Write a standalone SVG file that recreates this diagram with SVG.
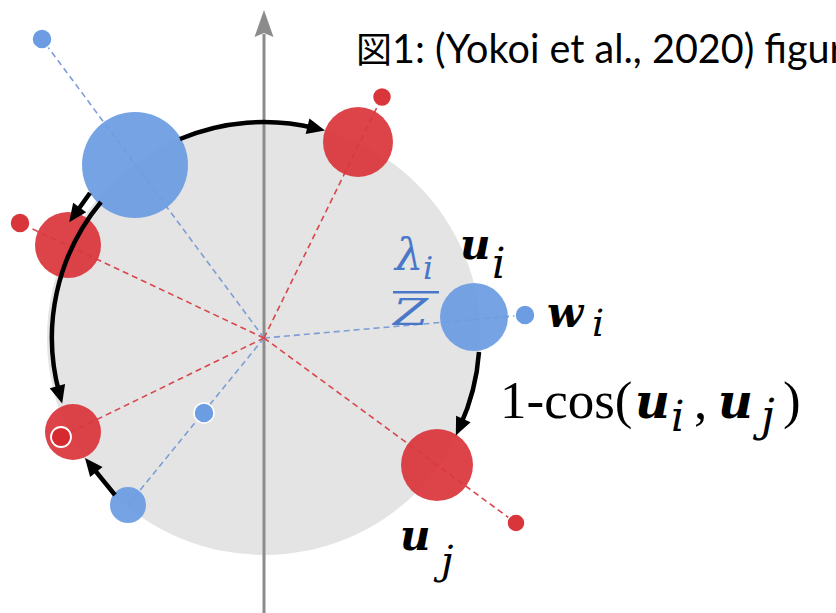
<svg xmlns="http://www.w3.org/2000/svg" width="836" height="613" viewBox="0 0 836 613">
<style>
.disk{fill:#e4e4e4}
.axis{stroke:#8c8c8c;stroke-width:3;fill:none}
.bl{stroke:#7d9dd6;stroke-width:1.6;stroke-dasharray:6 4;fill:none}
.rl{stroke:#d8474c;stroke-width:1.6;stroke-dasharray:6 4;fill:none}
.blue{fill:#6c9ce2;fill-opacity:0.93}
.red{fill:#d9363c;fill-opacity:0.93}
.dotb{fill:#6c9ce2;stroke:#fff;stroke-width:1.5}
.dotr{fill:#d9363c;stroke:#fff;stroke-width:1.5}
.inner{fill:#d42a30;stroke:#fff;stroke-width:1.8}
.arr{stroke:#000;stroke-width:4.5;fill:none;marker-end:url(#ah)}
.m{font-family:"DejaVu Serif",serif;fill:#000}
.t{font-family:"Liberation Serif",serif;fill:#000}
.v{font-weight:bold;font-style:italic}
.it{font-style:italic}
.lb{fill:#4a78c8}
.cjk{font-family:"Noto Sans CJK JP",sans-serif;fill:#000}
.title{font-family:Lato,"Noto Sans CJK JP",sans-serif;fill:#000}
</style>
<defs>
<marker id="ah" markerUnits="userSpaceOnUse" markerWidth="18" markerHeight="16" refX="8" refY="8" orient="auto" overflow="visible">
<path d="M0,0 L18,8 L0,16 z" fill="#000"/>
</marker>
</defs>

<circle id="disk" class="disk" cx="264" cy="338" r="217"/>

<g id="axis">
<line class="axis" x1="264" y1="34" x2="264" y2="613"/>
<path d="M264,10 L273.5,37 L264,33 L254.5,37 z" fill="#8c8c8c"/>
</g>

<g id="rays">
<line class="bl" x1="264" y1="338" x2="42" y2="39"/>
<line class="bl" x1="264" y1="338" x2="525" y2="315"/>
<line class="bl" x1="264" y1="338" x2="128" y2="505"/>
<line class="rl" x1="264" y1="338" x2="382" y2="97"/>
<line class="rl" x1="264" y1="338" x2="20" y2="223"/>
<line class="rl" x1="264" y1="338" x2="61" y2="437"/>
<line class="rl" x1="264" y1="338" x2="516" y2="523"/>
</g>

<g id="node-blue-big"><circle class="blue" cx="135" cy="165" r="53"/><circle class="dotb" cx="42" cy="39" r="10"/></g>
<g id="node-red-top"><circle class="red" cx="358" cy="142" r="35"/><circle class="dotr" cx="382" cy="97" r="9.5"/></g>
<g id="node-red-left"><circle class="red" cx="68" cy="245" r="33"/><circle class="dotr" cx="20" cy="223" r="10"/></g>
<g id="node-red-lowleft"><circle class="red" cx="73" cy="432" r="28"/><circle class="inner" cx="61" cy="437" r="10"/></g>
<g id="node-blue-lowleft"><circle class="dotb" cx="204" cy="413" r="10"/><circle class="blue" cx="128" cy="505" r="18"/></g>
<g id="node-blue-right"><circle class="blue" cx="474" cy="317" r="34"/><circle class="dotb" cx="525" cy="315" r="10"/></g>
<g id="node-red-right"><circle class="red" cx="437" cy="465" r="36"/><circle class="dotr" cx="516" cy="523" r="9"/></g>

<g id="connectors">
<path class="arr" d="M180,139 A216,216 0 0 1 315.3,128.2"/>
<path class="arr" d="M90,193 L75,214"/>
<path class="arr" d="M101,202 A212,212 0 0 0 59.5,393.9"/>
<path class="arr" d="M115,495 L91.3,465.8"/>
<path class="arr" d="M479,352 A215,215 0 0 1 460,426.3"/>
</g>

<g id="labels">
<text class="cjk" x="356" y="63" font-size="36">図</text>
<text class="title" x="392" y="63" font-size="40" textLength="452" lengthAdjust="spacingAndGlyphs">1: (Yokoi et al., 2020) figur</text>
<text class="m lb it" x="395" y="270" font-size="45">λ</text>
<text class="m lb it" x="423" y="279" font-size="32">i</text>
<rect class="lb" x="393" y="291" width="46" height="2.5"/>
<text class="m lb it" x="393" y="325" font-size="38" textLength="35" lengthAdjust="spacingAndGlyphs">Z</text>
<text class="m v" x="460" y="259" font-size="42">u</text>
<text class="m it" x="492" y="278" font-size="42">i</text>
<text class="m v" x="547" y="327" font-size="42">w</text>
<text class="m it" x="592" y="336" font-size="38">i</text>
<text class="t" x="500" y="418" font-size="53">1-cos(</text>
<text class="m v" x="635" y="418" font-size="48">u</text>
<text class="m it" x="671" y="431" font-size="42">i</text>
<text class="t" x="694" y="418" font-size="53">,</text>
<text class="m v" x="718" y="418" font-size="48">u</text>
<text class="m it" x="761" y="431" font-size="44">j</text>
<text class="t" x="783" y="418" font-size="53">)</text>
<text class="m v" x="400" y="550" font-size="42">u</text>
<text class="m it" x="441" y="574" font-size="40">j</text>
</g>
</svg>
